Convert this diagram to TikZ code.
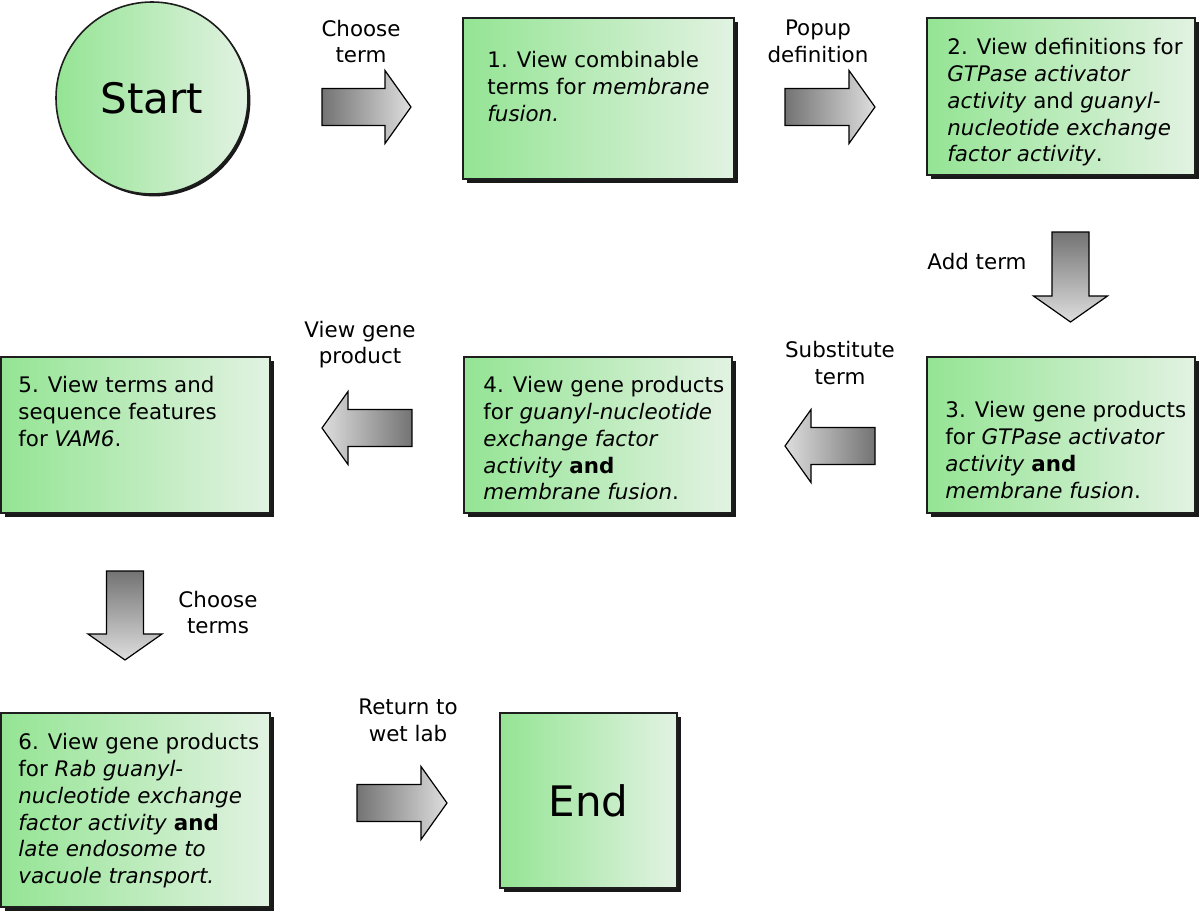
\documentclass[tikz,border=0pt]{standalone}
\usepackage{fontspec}
\setmainfont{DejaVu Sans}
\usetikzlibrary{shadows}
\definecolor{gL}{RGB}{148,228,148}
\definecolor{gR}{RGB}{226,242,226}
\definecolor{aD}{RGB}{115,115,115}
\definecolor{aL}{RGB}{222,222,222}
\definecolor{bord}{RGB}{30,30,30}
\tikzset{
  boxsh/.style={draw=bord, line width=0.8pt, left color=gL, right color=gR},
  stepbox/.style={boxsh, rectangle, inner sep=0pt,
    drop shadow={shadow xshift=2pt, shadow yshift=-2pt, fill=black!90, opacity=1}},
  startcirc/.style={boxsh, circle, inner sep=0pt,
    drop shadow={shadow xshift=1.2pt, shadow yshift=-1.2pt, fill=black!90, opacity=1}},
  txt/.style={anchor=north west, inner sep=0pt, align=left, font=\fontsize{10.7}{13.4}\selectfont},
  lbl/.style={inner sep=0pt, align=center, font=\fontsize{10.7}{13.4}\selectfont},
  big/.style={font=\fontsize{21}{25}\selectfont},
  blockarrow/.style={draw=black, line width=0.6pt}
}
\newcommand\arrRight[3]{\path[blockarrow, left color=aD, right color=aL]
  (#1,#3-18.5) -- (#2-26,#3-18.5) -- (#2-26,#3-36.5) -- (#2,#3) -- (#2-26,#3+36.5) -- (#2-26,#3+18.5) -- (#1,#3+18.5) -- cycle;}
\newcommand\arrLeft[3]{\path[blockarrow, left color=aL, right color=aD]
  (#1,#3-18.5) -- (#2+26,#3-18.5) -- (#2+26,#3-36.5) -- (#2,#3) -- (#2+26,#3+36.5) -- (#2+26,#3+18.5) -- (#1,#3+18.5) -- cycle;}
\newcommand\arrDown[3]{\path[blockarrow, top color=aD, bottom color=aL]
  (#1-18.5,#2) -- (#1-18.5,#3-26) -- (#1-37,#3-26) -- (#1,#3) -- (#1+37,#3-26) -- (#1+18.5,#3-26) -- (#1+18.5,#2) -- cycle;}
\begin{document}
\begin{tikzpicture}[x=0.5pt, y=-0.5pt]
\useasboundingbox (0,0) rectangle (1200,911);
\fill[white] (0,0) rectangle (1200,911);

% nodes
\node[startcirc, minimum size=96pt, big] (start) at (152,98) {Start};
\node[stepbox, minimum width=135.5pt, minimum height=80.5pt] (b1) at (598.5,98.5) {};
\node[stepbox, minimum width=134pt, minimum height=78.5pt] (b2) at (1061,96.5) {};
\node[stepbox, minimum width=134pt, minimum height=78pt] (b3) at (1061,435) {};
\node[stepbox, minimum width=134pt, minimum height=78pt] (b4) at (598,435) {};
\node[stepbox, minimum width=134.5pt, minimum height=78pt] (b5) at (135.5,435) {};
\node[stepbox, minimum width=134.5pt, minimum height=97pt] (b6) at (135.5,810) {};
\node[stepbox, minimum width=88.5pt, minimum height=87.5pt, big] (end) at (588.5,800.5) {End};

% texts
\node[txt] (t1) at (487,51) {1. View combinable\\terms for \textit{membrane}\\\textit{fusion.}};
\node[txt] (t2) at (947,38) {2. View definitions for\\\textit{GTPase activator}\\\textit{activity} and \textit{guanyl-}\\\textit{nucleotide exchange}\\\textit{factor activity}.};
\node[txt] (t3) at (945,401) {3. View gene products\\for \textit{GTPase activator}\\\textit{activity} \textbf{and}\\\textit{membrane fusion}.};
\node[txt] (t4) at (483,376) {4. View gene products\\for \textit{guanyl-nucleotide}\\\textit{exchange factor}\\\textit{activity} \textbf{and}\\\textit{membrane fusion}.};
\node[txt] (t5) at (18,376) {5. View terms and\\sequence features\\for \textit{VAM6}.};
\node[txt] (t6) at (18,733) {6. View gene products\\for \textit{Rab guanyl-}\\\textit{nucleotide exchange}\\\textit{factor activity} \textbf{and}\\\textit{late endosome to}\\\textit{vacuole transport.}};

% arrows
\arrRight{322}{411}{107}
\arrRight{785}{875}{107}
\arrDown{1070.5}{232}{322}
\arrLeft{875}{785}{446}
\arrLeft{412}{322}{428}
\arrDown{125}{571}{660}
\arrRight{357}{447}{803}

% labels
\node[lbl] (l1) at (361,41.5) {Choose\\term};
\node[lbl] (l2) at (818,41.5) {Popup\\definition};
\node[lbl] (l3) at (977,262) {Add term};
\node[lbl] (l4) at (840,363) {Substitute\\term};
\node[lbl] (l5) at (360,344.5) {View gene\\product};
\node[lbl] (l6) at (218,612.5) {Choose\\terms};
\node[lbl] (l7) at (408,720) {Return to\\wet lab};
\end{tikzpicture}
\end{document}
